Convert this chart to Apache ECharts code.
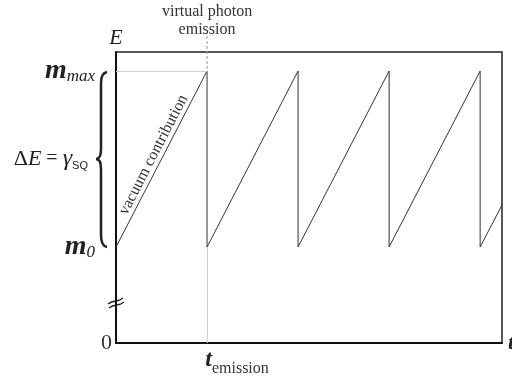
<!DOCTYPE html>
<html>
<head>
<meta charset="utf-8">
<title>virtual photon emission</title>
<style>
  html, body { margin: 0; height: 100%; background: #fff; }
  #main { width: 512px; height: 382px; }
</style>
</head>
<body>
<div id="main"></div>
<script src="https://cdn.jsdelivr.net/npm/echarts@6/dist/echarts.min.js"></script>
<script>
  // sawtooth: energy rises linearly from m0 to mmax, drops at each emission
  var tValues = [0, 1, 1, 2, 2, 3, 3, 4, 4, 4.24];
  var eValues = [96, 272, 96, 272, 96, 272, 96, 272, 96, 138];
  var yTicks = [0, 96, 272];
  var xTicks = [1];
  var M0 = 96, MMAX = 272, EMAX = 291, TMAX = 4.24, T_EMIT = 1, BREAK_Y = 40;

  var serif = '"Liberation Serif", "DejaVu Serif", serif';

  var data = [];
  for (var i = 0; i < tValues.length; i++) {
    data.push([tValues[i], eValues[i]]);
  }

  var chart = echarts.init(document.getElementById('main'));

  chart.setOption({
    animation: false,
    grid: {
      left: 116, right: 10, top: 52, bottom: 39,
      outerBoundsMode: 'none',
      show: true, borderColor: '#222', borderWidth: 1.5
    },
    xAxis: {
      type: 'value', min: 0, max: TMAX,
      name: 't', nameLocation: 'end', nameGap: 6,
      nameTextStyle: { fontFamily: serif, fontStyle: 'italic', fontWeight: 'bold', fontSize: 22, color: '#222', padding: [14, 0, 0, 0] },
      axisLine: { show: true, lineStyle: { color: '#111', width: 2 } },
      axisTick: { show: false },
      splitLine: { show: false },
      axisLabel: {
        customValues: xTicks, margin: 10,
        formatter: function (v) { return '{sp|}{t|t}{e|emission}'; },
        rich: {
          sp: { width: 60 },
          t: { fontFamily: serif, fontStyle: 'italic', fontWeight: 'bold', fontSize: 24, color: '#222', lineHeight: 24, verticalAlign: 'bottom', padding: [0, 0, 5, 0] },
          e: { fontFamily: serif, fontSize: 16, color: '#333', lineHeight: 16, verticalAlign: 'bottom' }
        }
      }
    },
    yAxis: {
      type: 'value', min: 0, max: EMAX,
      name: 'E', nameLocation: 'end', nameGap: 3,
      nameTextStyle: { fontFamily: serif, fontStyle: 'italic', fontSize: 22, color: '#222', align: 'center' },
      axisLine: { show: true, lineStyle: { color: '#111', width: 2 } },
      axisTick: { show: false },
      splitLine: { show: false },
      axisLabel: {
        customValues: yTicks, margin: 4,
        verticalAlignMinLabel: 'middle',
        formatter: function (v) {
          if (v === M0) return '{m|m}{s|0}{gap|}';
          if (v === MMAX) return '{m|m}{s|max}{gap|}';
          return '{z|0}';
        },
        rich: {
          z: { fontFamily: serif, fontSize: 22, color: '#333' },
          m: { fontFamily: serif, fontStyle: 'italic', fontWeight: 'bold', fontSize: 28, color: '#222', lineHeight: 28 },
          s: { fontFamily: serif, fontStyle: 'italic', fontSize: 17, color: '#222', verticalAlign: 'bottom' },
          gap: { width: 17 }
        }
      }
    },
    series: [{
      type: 'line',
      data: data,
      showSymbol: false,
      lineStyle: { color: '#333', width: 1 },
      z: 3,
      markLine: {
        silent: true,
        symbol: 'none',
        label: { show: false },
        lineStyle: { color: '#cfcfcf', type: 'solid', width: 1 },
        data: [
          [{ coord: [0, MMAX] }, { coord: [T_EMIT, MMAX] }],
          [{ coord: [T_EMIT, 0] }, { coord: [T_EMIT, M0] }]
        ]
      }
    }]
  });

  // annotations placed from the axis scales
  var pTop = chart.convertToPixel({ gridIndex: 0 }, [T_EMIT, MMAX]);
  var pLow = chart.convertToPixel({ gridIndex: 0 }, [0, M0]);
  var pBrk = chart.convertToPixel({ gridIndex: 0 }, [0, BREAK_Y]);
  var xe = pTop[0], yMax = pTop[1], y0 = pLow[1], x0 = pLow[0];
  var yMid = (yMax + y0) / 2;
  var bx = x0 - 15;
  var kx = pBrk[0], ky = pBrk[1];

  var ang = Math.atan2(y0 - yMax, xe - x0);
  var mx = (x0 + xe) / 2, my = (y0 + yMax) / 2;

  var braceStyle = { stroke: '#222', lineWidth: 2.5, fill: null };
  var breakStyle = { stroke: '#222', lineWidth: 1.3, fill: null };
  function curve(x1, y1, cx, cy, x2, y2, st) {
    return { type: 'bezierCurve', silent: true, shape: { x1: x1, y1: y1, cpx1: cx, cpy1: cy, x2: x2, y2: y2 }, style: st || braceStyle };
  }
  function wave(x1, y1, x2, y2) {
    return {
      type: 'bezierCurve', silent: true,
      shape: { x1: x1, y1: y1, cpx1: x1 + 6, cpy1: y1 - 5, cpx2: x2 - 6, cpy2: y2 + 5, x2: x2, y2: y2 },
      style: breakStyle
    };
  }
  function seg(x1, y1, x2, y2) {
    return { type: 'line', silent: true, shape: { x1: x1, y1: y1, x2: x2, y2: y2 }, style: braceStyle };
  }

  chart.setOption({
    graphic: [
      {
        type: 'line', silent: true,
        shape: { x1: xe, y1: 36, x2: xe, y2: yMax },
        style: { stroke: '#999', lineWidth: 1, lineDash: [3, 2] }
      },
      {
        type: 'text', x: xe, y: 12,
        style: { text: 'virtual photon', font: '16px ' + serif, fill: '#333', align: 'center', verticalAlign: 'middle' }
      },
      {
        type: 'text', x: xe, y: 30,
        style: { text: 'emission', font: '16px ' + serif, fill: '#333', align: 'center', verticalAlign: 'middle' }
      },
      {
        type: 'text',
        x: mx - 9 * Math.sin(ang), y: my - 9 * Math.cos(ang),
        rotation: ang,
        style: { text: 'vacuum contribution', font: '16px ' + serif, fill: '#333', align: 'center', verticalAlign: 'middle' }
      },
      {
        type: 'group',
        children: [
          curve(bx + 6, yMax + 1, bx, yMax + 2, bx, yMax + 12),
          seg(bx, yMax + 12, bx, yMid - 10),
          curve(bx, yMid - 10, bx, yMid, bx - 5, yMid),
          curve(bx - 5, yMid, bx, yMid, bx, yMid + 10),
          seg(bx, yMid + 10, bx, y0 - 12),
          curve(bx, y0 - 12, bx, y0 - 1, bx + 6, y0)
        ]
      },
      {
        type: 'text', x: 88, y: yMid,
        style: {
          text: '{d|Δ}{e|E}{q| = }{g|γ}{s|SQ}',
          align: 'right', verticalAlign: 'middle',
          rich: {
            d: { fontFamily: serif, fontSize: 22, fill: '#222' },
            e: { fontFamily: serif, fontStyle: 'italic', fontSize: 22, fill: '#222' },
            q: { fontFamily: serif, fontSize: 20, fill: '#222' },
            g: { fontFamily: serif, fontStyle: 'italic', fontSize: 24, fill: '#222' },
            s: { fontFamily: 'Liberation Sans, sans-serif', fontSize: 11, fill: '#222', verticalAlign: 'bottom' }
          }
        }
      },
      {
        type: 'group',
        children: [
          wave(kx - 8, ky + 1, kx + 7, ky - 5),
          wave(kx - 7, ky + 5, kx + 8, ky - 1)
        ]
      }
    ]
  });
</script>
</body>
</html>
